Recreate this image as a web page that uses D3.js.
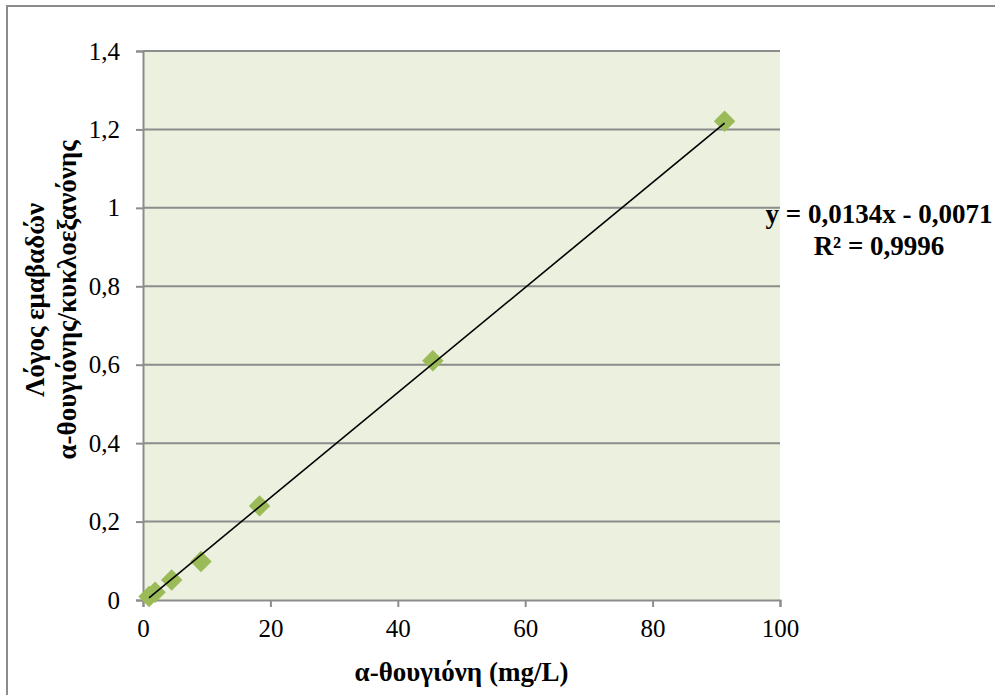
<!DOCTYPE html>
<html>
<head>
<meta charset="utf-8">
<script src="https://cdn.jsdelivr.net/npm/d3@7"></script>
<style>
  body { margin: 0; background: #fff; }
  text { font-family: "Liberation Serif", "Times New Roman", serif; fill: #000; }
</style>
</head>
<body>
<script>
// calibration points
var concentration = [0.95, 1.9, 4.5, 9.1, 18.3, 45.5, 91.3];
var areaRatio = [0.009, 0.02, 0.051, 0.098, 0.24, 0.61, 1.221];
var xTicks = [0, 20, 40, 60, 80, 100];
var yTicks = [0, 0.2, 0.4, 0.6, 0.8, 1, 1.2, 1.4];
var slope = 0.0134, intercept = -0.0071, r2 = 0.9996;

var width = 995, height = 695;
var margin = {left: 143, top: 51, right: 215, bottom: 95};

var svg = d3.select("body").append("svg")
    .attr("width", width)
    .attr("height", height);

// chart border (runs off the right/bottom edge like the screenshot)
svg.append("rect")
    .attr("x", 7).attr("y", 6)
    .attr("width", 1000).attr("height", 700)
    .attr("fill", "#fff")
    .attr("stroke", "#8c8c8c")
    .attr("stroke-width", 2);

var x = d3.scaleLinear().domain([0, 100]).range([margin.left, width - margin.right]);
var y = d3.scaleLinear().domain([0, 1.4]).range([height - margin.bottom, margin.top]);

svg.append("rect")
    .attr("x", x(0)).attr("y", y(1.4))
    .attr("width", x(100) - x(0)).attr("height", y(0) - y(1.4))
    .attr("fill", "#ebf0df");

// horizontal gridlines
svg.selectAll(".grid")
    .data(yTicks.slice(1)).enter()
    .append("line")
    .attr("x1", x(0)).attr("x2", x(100))
    .attr("y1", function(d){ return y(d); })
    .attr("y2", function(d){ return y(d); })
    .attr("stroke", "#8c8c8c")
    .attr("stroke-width", 2);

var fmt = function(d){ return String(d).replace(".", ","); };

var yAxis = svg.append("g")
    .attr("transform", "translate(" + x(0) + ",0)")
    .call(d3.axisLeft(y).tickValues(yTicks).tickSize(7).tickPadding(16).tickFormat(fmt));

var xAxis = svg.append("g")
    .attr("transform", "translate(0," + y(0) + ")")
    .call(d3.axisBottom(x).tickValues(xTicks).tickSize(7).tickPadding(12).tickFormat(fmt));

[xAxis, yAxis].forEach(function(a){
  a.selectAll("path, line").attr("stroke", "#8c8c8c").attr("stroke-width", 2);
  a.selectAll("text")
    .attr("font-family", "Liberation Serif")
    .attr("font-size", 25)
    .attr("fill", "#000");
});

// markers
svg.selectAll(".pt")
    .data(d3.zip(concentration, areaRatio)).enter()
    .append("path")
    .attr("d", d3.symbol().type(d3.symbolSquare).size(230))
    .attr("transform", function(d){ return "translate(" + x(d[0]) + "," + y(d[1]) + ") rotate(45)"; })
    .attr("fill", "#9bbb59");

// linear trendline over data range
var xMin = d3.min(concentration), xMax = d3.max(concentration);
svg.append("line")
    .attr("x1", x(xMin)).attr("y1", y(slope * xMin + intercept))
    .attr("x2", x(xMax)).attr("y2", y(slope * xMax + intercept))
    .attr("stroke", "#000")
    .attr("stroke-width", 1.6);

// equation label
var eq = svg.append("text")
    .attr("text-anchor", "middle")
    .attr("font-weight", "bold")
    .attr("font-size", 27);
eq.append("tspan").attr("x", 879).attr("y", 223)
    .text("y = " + fmt(slope) + "x - " + fmt(-intercept));
eq.append("tspan").attr("x", 879).attr("y", 255)
    .text("R² = " + fmt(r2));

// axis titles
svg.append("text")
    .attr("x", (x(0) + x(100)) / 2)
    .attr("y", 681)
    .attr("text-anchor", "middle")
    .attr("font-weight", "bold")
    .attr("font-size", 27)
    .text("α-θουγιόνη (mg/L)");

var yt = svg.append("text")
    .attr("transform", "translate(0,300) rotate(-90)")
    .attr("text-anchor", "middle")
    .attr("font-weight", "bold")
    .attr("font-size", 27);
yt.append("tspan").attr("x", 0).attr("y", 44).text("Λόγος εμαβαδών");
yt.append("tspan").attr("x", 0).attr("y", 76).text("α-θουγιόνης/κυκλοεξανόνης");
</script>
</body>
</html>
